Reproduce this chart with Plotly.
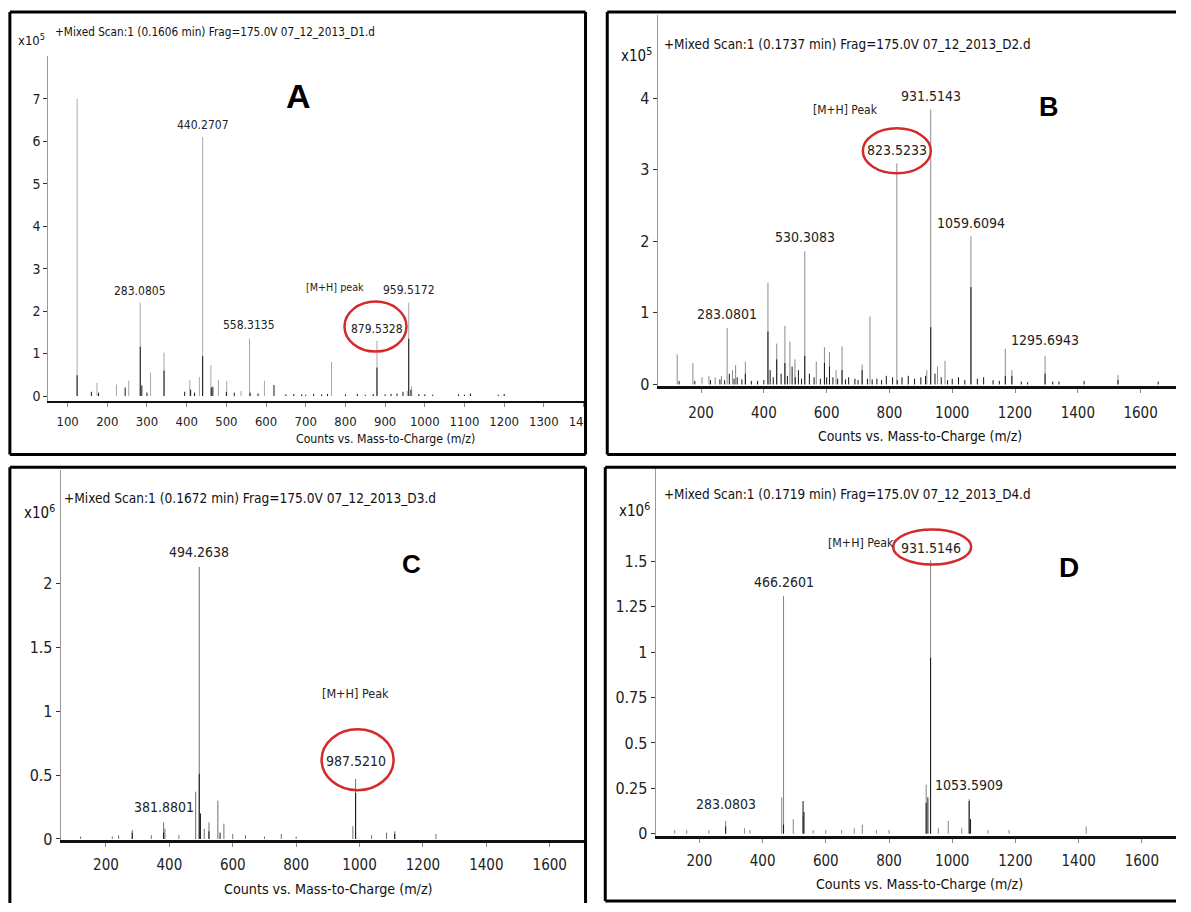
import plotly.graph_objects as go

W, H = 1191, 912
NARROW = "DejaVu Sans Condensed, DejaVu Sans, sans-serif"
BOLD = "Liberation Sans, Arial, sans-serif"
DARK = "#161616"
RED = "#d42a2a"

# ---------------- Panel A  (Counts x10^5) ----------------
a_grey_mz = [124, 174, 223, 254, 283.0805, 309, 343, 408, 432, 440.2707, 461, 480, 501, 537,
             558.3135, 596, 765, 879.5328, 956, 959.5172, 967]
a_grey_h = [7.0, 0.31, 0.27, 0.36, 2.2, 0.55, 1.02, 0.38, 0.45, 6.1, 0.73, 0.38, 0.36, 0.12,
            1.35, 0.36, 0.8, 1.3, 0.12, 2.2, 0.23]
a_dark_mz = [124, 160, 178, 245, 283.0805, 287, 300, 343, 395, 410, 420, 440.2707, 462, 466,
             500, 520, 560, 580, 620, 650, 670, 690, 700, 720, 740, 755, 800, 830, 850, 870,
             879.5328, 900, 915, 930, 945, 959.5172, 965, 985, 1000, 1020, 1085, 1100, 1115,
             1185, 1200]
a_dark_h = [0.49, 0.1, 0.08, 0.2, 1.16, 0.25, 0.08, 0.6, 0.1, 0.15, 0.08, 0.94, 0.2, 0.22,
            0.1, 0.08, 0.08, 0.06, 0.26, 0.04, 0.05, 0.04, 0.03, 0.05, 0.04, 0.05, 0.04, 0.05,
            0.03, 0.05, 0.67, 0.04, 0.05, 0.06, 0.1, 1.35, 0.15, 0.05, 0.04, 0.03, 0.04, 0.03,
            0.06, 0.03, 0.05]
a_xticks = [100, 200, 300, 400, 500, 600, 700, 800, 900, 1000, 1100, 1200, 1300, 1400]
a_yticks = [0, 1, 2, 3, 4, 5, 6, 7]
a_labels = ["283.0805", "440.2707", "558.3135", "879.5328", "959.5172"]
a_label_h = [2.2, 6.1, 1.35, 1.3, 2.2]

# ---------------- Panel B  (Counts x10^5) ----------------
b_grey_mz = [124, 174, 203, 225, 245, 265, 283.0801, 300, 310, 341, 413, 441, 467, 483, 499,
             530.3083, 567, 593, 609, 630, 649, 713, 738, 823.5233, 919, 931.5143, 953, 977,
             1059.6094, 1169, 1190, 1295.6943, 1528]
b_grey_h = [0.42, 0.3, 0.1, 0.12, 0.1, 0.12, 0.79, 0.2, 0.27, 0.32, 1.42, 0.57, 0.82, 0.6, 0.35,
            1.86, 0.32, 0.52, 0.45, 0.2, 0.53, 0.28, 0.95, 3.09, 0.2, 3.84, 0.25, 0.33,
            2.07, 0.5, 0.2, 0.4, 0.13]
b_dark_mz = [130, 180, 230, 260, 275, 290, 305, 315, 330, 341, 360, 380, 400, 413, 420, 430,
             441, 455, 467, 475, 490, 500, 510, 520, 530.3083, 545, 560, 580, 593, 600, 609,
             620, 635, 649, 660, 670, 690, 700, 713, 730, 745, 760, 775, 790, 810, 825, 840,
             860, 880, 900, 915, 931.5143, 945, 965, 985, 1000, 1020, 1040, 1059.6094, 1080,
             1100, 1130, 1150, 1169, 1190, 1220, 1240, 1295.6943, 1320, 1340, 1420, 1528, 1656]
b_dark_h = [0.05, 0.05, 0.06, 0.07, 0.06, 0.15, 0.08, 0.1, 0.07, 0.15, 0.05, 0.05, 0.06, 0.74,
            0.2, 0.1, 0.35, 0.15, 0.3, 0.12, 0.25, 0.1, 0.2, 0.08, 0.4, 0.15, 0.1, 0.08, 0.3,
            0.1, 0.25, 0.1, 0.08, 0.2, 0.07, 0.1, 0.08, 0.06, 0.2, 0.08, 0.07, 0.08, 0.06, 0.12,
            0.1, 0.06, 0.1, 0.12, 0.08, 0.1, 0.12, 0.8, 0.15, 0.1, 0.06, 0.08, 0.1, 0.06, 1.36,
            0.08, 0.1, 0.06, 0.05, 0.12, 0.12, 0.04, 0.03, 0.15, 0.04, 0.04, 0.05, 0.06, 0.04]
b_xticks = [200, 400, 600, 800, 1000, 1200, 1400, 1600]
b_yticks = [0, 1, 2, 3, 4]
b_labels = ["283.0801", "530.3083", "823.5233", "931.5143", "1059.6094", "1295.6943"]
b_label_h = [0.79, 1.86, 3.09, 3.84, 2.07, 0.4]

# ---------------- Panel C  (Counts x10^6) ----------------
c_grey_mz = [120, 220, 240, 283, 343, 381.8801, 386, 430, 483, 494.2638, 510, 525, 553, 572,
             600, 640, 700, 753, 800, 979, 987.521, 1038, 1085, 1111, 1241]
c_grey_h = [0.02, 0.02, 0.03, 0.07, 0.03, 0.13, 0.08, 0.03, 0.37, 2.13, 0.08, 0.13, 0.3, 0.12,
            0.04, 0.03, 0.02, 0.04, 0.02, 0.1, 0.47, 0.03, 0.05, 0.06, 0.04]
c_dark_mz = [283, 381.8801, 494.2638, 498, 525, 560, 987.521, 1111]
c_dark_h = [0.05, 0.05, 0.51, 0.2, 0.06, 0.05, 0.36, 0.04]
c_xticks = [200, 400, 600, 800, 1000, 1200, 1400, 1600]
c_yticks = [0, 0.5, 1, 1.5, 2]
c_labels = ["381.8801", "494.2638", "987.5210"]
c_label_h = [0.13, 2.13, 0.47]

# ---------------- Panel D  (Counts x10^6) ----------------
d_grey_mz = [122, 160, 230, 283.0803, 343, 360, 460.6, 466.2601, 497, 528, 560, 600, 650,
             690, 715.6, 760, 800, 917.5, 931.5146, 956, 987.5, 1030, 1053.5909, 1113, 1180,
             1424]
d_grey_h = [0.02, 0.02, 0.02, 0.07, 0.03, 0.02, 0.2, 1.31, 0.08, 0.1, 0.02, 0.02, 0.02,
            0.03, 0.05, 0.02, 0.02, 0.27, 1.505, 0.03, 0.07, 0.03, 0.19, 0.02, 0.02, 0.04]
d_dark_mz = [283.0803, 466.2601, 528, 531, 917.5, 923, 931.5146, 1053.5909, 1058]
d_dark_h = [0.04, 0.05, 0.18, 0.12, 0.17, 0.2, 0.97, 0.18, 0.08]
d_xticks = [200, 400, 600, 800, 1000, 1200, 1400, 1600]
d_yticks = [0, 0.25, 0.5, 0.75, 1, 1.25, 1.5]
d_labels = ["283.0803", "466.2601", "931.5146", "1053.5909"]
d_label_h = [0.07, 1.31, 1.505, 0.19]

headers = [
    "+Mixed Scan:1 (0.1606 min) Frag=175.0V 07_12_2013_D1.d",
    "+Mixed Scan:1 (0.1737 min) Frag=175.0V 07_12_2013_D2.d",
    "+Mixed Scan:1 (0.1672 min) Frag=175.0V 07_12_2013_D3.d",
    "+Mixed Scan:1 (0.1719 min) Frag=175.0V 07_12_2013_D4.d",
]
exponents = ["5", "5", "6", "6"]
letters = ["A", "B", "C", "D"]
x_title = "Counts vs. Mass-to-Charge (m/z)"
mh_text = ["[M+H] peak", "[M+H] Peak", "[M+H] Peak", "[M+H] Peak"]


def px(x):
    return x / W


def py(y):
    return 1 - y / H


def sticks(mz, h):
    xs, ys = [], []
    for m, v in zip(mz, h):
        xs += [m, m, None]
        ys += [0, v, None]
    return xs, ys


# layout geometry in page pixels: (left, right, top, bottom), x range, y range
panels = [
    dict(dom=(49, 591, 57, 405), xr=(51.6, 1400), yr=(-0.117, 8.0), grey_col="#a8a8a8",
         grey=(a_grey_mz, a_grey_h), dark=(a_dark_mz, a_dark_h), stand=3,
         xt=a_xticks, yt=a_yticks, xfs=13, yfs=14, xlw=2, labs=(a_labels, a_label_h)),
    dict(dom=(666, 1191, 15, 389.5), xr=(61.6, 1712.7), yr=(-0.017, 5.165), grey_col="#8c8c8c",
         grey=(b_grey_mz, b_grey_h), dark=(b_dark_mz, b_dark_h), stand=7,
         xt=b_xticks, yt=b_yticks, xfs=15, yfs=16, xlw=3, labs=(b_labels, b_label_h)),
    dict(dom=(61.5, 592, 475, 848), xr=(57.3, 1709.8), yr=(-0.005, 2.886), grey_col="#707070",
         grey=(c_grey_mz, c_grey_h), dark=(c_dark_mz, c_dark_h), stand=5,
         xt=c_xticks, yt=c_yticks, xfs=15, yfs=16, xlw=3, labs=(c_labels, c_label_h)),
    dict(dom=(664, 1191, 473, 844), xr=(61.6, 1708), yr=(-0.011, 2.013), grey_col="#858585",
         grey=(d_grey_mz, d_grey_h), dark=(d_dark_mz, d_dark_h), stand=5,
         xt=d_xticks, yt=d_yticks, xfs=15, yfs=16, xlw=3, labs=(d_labels, d_label_h)),
]

fig = go.Figure()
layout = dict(width=W, height=H, margin=dict(l=0, r=0, t=0, b=0),
              paper_bgcolor="white", plot_bgcolor="white", showlegend=False)

for i, p in enumerate(panels):
    n = "" if i == 0 else str(i + 1)
    xa, ya = "x" + n, "y" + n
    l, r, t, b = p["dom"]
    for (mz, h), col in ((p["grey"], p["grey_col"]), (p["dark"], DARK)):
        xs, ys = sticks(mz, h)
        fig.add_trace(go.Scatter(x=xs, y=ys, mode="lines", xaxis=xa, yaxis=ya,
                                 line=dict(color=col, width=1), hoverinfo="skip"))
    layout["xaxis" + n] = dict(
        domain=[px(l), min(1.0, px(r))], range=list(p["xr"]), anchor=ya,
        showgrid=False, zeroline=False, showline=True, linecolor="#111",
        linewidth=p["xlw"], ticks="outside", ticklen=4, tickcolor="#888",
        ticklabelstandoff=p["stand"], fixedrange=True,
        tickvals=p["xt"], tickfont=dict(family=NARROW, size=p["xfs"], color="#222"))
    layout["yaxis" + n] = dict(
        domain=[py(b), py(t)], range=list(p["yr"]), anchor=xa,
        showgrid=False, zeroline=False, showline=True, linecolor="#9a9a9a",
        linewidth=1, ticks="outside", ticklen=4, tickcolor="#333", fixedrange=True,
        tickvals=p["yt"], tickfont=dict(family=NARROW, size=p["yfs"], color="#222"))

fig.update_layout(**layout)

ann = []
shapes = []

# peak labels (anchored to the peak tops)
label_yshift = [[12, 11.6, 13.7, 12, 12.7],
                [14, 14.8, 13, 13.7, 13.6, 16],
                [15.5, 14.5, 17.7],
                [17, 14, 13, 14]]
label_fs = [12, 14, 14, 14]
for i, p in enumerate(panels):
    n = "" if i == 0 else str(i + 1)
    labs, hs = p["labs"]
    for j, (txt, hv) in enumerate(zip(labs, hs)):
        ann.append(dict(x=float(txt), y=hv, xref="x" + n, yref="y" + n, text=txt,
                        showarrow=False, yanchor="middle", xanchor="center",
                        yshift=label_yshift[i][j],
                        font=dict(family=NARROW, size=label_fs[i], color="#222")))

# [M+H] annotations & red ellipses, anchored at the molecular-ion peak
mh_peak = [(0, 879.5328, 1.3), (1, 823.5233, 3.09), (2, 987.521, 0.47), (3, 931.5146, 1.505)]
mh_shift = [(-42, 53), (-51, 53), (0, 85), (-70, 18)]
mh_fs = [10.7, 12, 12.5, 12.3]
ell = [(-32.5, 29.5, -10.7, 39.3), (-34, 34, -10, 35), (-34, 38, -11.3, 49.7),
       (-37.4, 40.6, -3.9, 31.1)]
for (i, mz, hv), (dx, dy), (x0, x1, y0, y1), fs in zip(mh_peak, mh_shift, ell, mh_fs):
    n = "" if i == 0 else str(i + 1)
    ann.append(dict(x=mz, y=hv, xref="x" + n, yref="y" + n, text=mh_text[i],
                    showarrow=False, xshift=dx, yshift=dy,
                    font=dict(family=NARROW, size=fs, color="#222")))
    shapes.append(dict(type="circle", xref="x" + n, yref="y" + n,
                       xsizemode="pixel", ysizemode="pixel", xanchor=mz, yanchor=hv,
                       x0=x0, x1=x1, y0=y0, y1=y1,
                       line=dict(color=RED, width=2.5), layer="above"))

# headers, exponents, letters, axis titles (page pixel positions)
hdr_pos = [(54, 32, 11.7), (670, 45, 13.4), (63, 503, 13.6), (670, 499, 13.4)]
exp_pos = [(16, 40, 13), (627, 56, 15), (22, 517, 15), (625, 515, 15)]
let_pos = [(302, 97, 34), (1062, 108, 27), (417, 570, 26), (1083, 573, 28)]
tit_pos = [(390, 443, 12.2), (932, 440, 13.9), (333, 898, 14.2), (931, 893, 14.1)]
for i in range(4):
    x, y, s = hdr_pos[i]
    ann.append(dict(x=px(x), y=py(y), xref="paper", yref="paper", text=headers[i],
                    showarrow=False, xanchor="left", yanchor="middle",
                    font=dict(family=NARROW, size=s, color="#111")))
    x, y, s = exp_pos[i]
    ann.append(dict(x=px(x), y=py(y), xref="paper", yref="paper",
                    text="x10<sup>" + exponents[i] + "</sup>",
                    showarrow=False, xanchor="left", yanchor="middle",
                    font=dict(family=NARROW, size=s, color="#111")))
    x, y, s = let_pos[i]
    ann.append(dict(x=px(x), y=py(y), xref="paper", yref="paper",
                    text="<b>" + letters[i] + "</b>",
                    showarrow=False, xanchor="center", yanchor="middle",
                    font=dict(family=BOLD, size=s, color="#000")))
    x, y, s = tit_pos[i]
    ann.append(dict(x=px(x), y=py(y), xref="paper", yref="paper", text=x_title,
                    showarrow=False, xanchor="center", yanchor="middle",
                    font=dict(family=NARROW, size=s, color="#111")))

# white mask clipping panel A's last tick label
shapes.append(dict(type="rect", xref="paper", yref="paper", x0=px(594), x1=px(613),
                   y0=py(445), y1=py(400), fillcolor="white", line=dict(width=0),
                   layer="above"))
# panel frames: only the edges that lie inside the page
frame_edges = [
    (10, 12, 593, 12), (10, 459, 593, 459), (10, 12, 10, 459), (593, 12, 593, 459),   # A
    (615, 12, 1191, 12), (615, 459, 1191, 459), (615, 12, 615, 459),                  # B
    (10, 472, 593, 472), (10, 472, 10, 912), (593, 472, 593, 912),                    # C
    (613, 472, 1191, 472), (613, 910, 1191, 910), (613, 472, 613, 910),               # D
]
for x0, y0, x1, y1 in frame_edges:
    shapes.append(dict(type="line", xref="paper", yref="paper", x0=px(x0), x1=px(x1),
                       y0=py(y0), y1=py(y1), line=dict(color="#000", width=3),
                       layer="above"))

fig.update_layout(annotations=ann, shapes=shapes)
fig.write_html(
    "out.html",
    config={"displayModeBar": False},
    post_script=("var gd = document.getElementById('{plot_id}');"
                 "gd.style.position='fixed';gd.style.left='0px';gd.style.top='0px';"
                 "document.documentElement.style.margin='0';"
                 "document.body.style.margin='0';"
                 "document.body.style.padding='0';"
                 "document.documentElement.style.overflow='hidden';"
                 "document.body.style.overflow='hidden';"),
)
